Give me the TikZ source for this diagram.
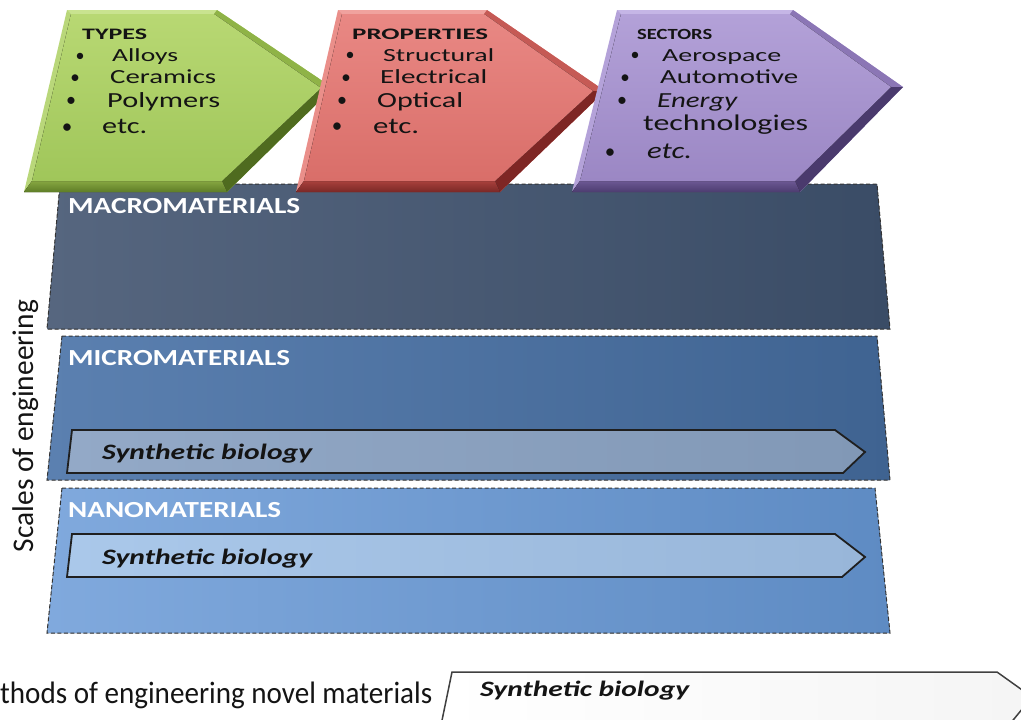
\documentclass[tikz,border=0pt]{standalone}
\usepackage{fontspec}
\setmainfont{Carlito}
\usepackage{graphicx}
\newcommand{\hfit}[2]{\resizebox{#1}{\height}{#2}}
\newcommand{\fsz}[1]{\fontsize{#1}{#1}\selectfont}
\definecolor{txt}{HTML}{141414}
\definecolor{macL}{HTML}{56667F}
\definecolor{macR}{HTML}{3A4C66}
\definecolor{micL}{HTML}{5B80B0}
\definecolor{micR}{HTML}{3F6391}
\definecolor{nanL}{HTML}{80A9DD}
\definecolor{nanR}{HTML}{5E8BC3}
\definecolor{sbmL}{HTML}{93A9C7}
\definecolor{sbmR}{HTML}{8198B6}
\definecolor{sbnL}{HTML}{AAC8EA}
\definecolor{sbnR}{HTML}{98B6D9}
% green
\definecolor{gTop}{HTML}{C9E38F}
\definecolor{gUR}{HTML}{8FB347}
\definecolor{gLR}{HTML}{4F6B1F}
\definecolor{gB1}{HTML}{86A641}
\definecolor{gB2}{HTML}{5E7D27}
\definecolor{gLeft}{HTML}{B9D77A}
\definecolor{gF1}{HTML}{B8D873}
\definecolor{gF2}{HTML}{A0C65A}
% red
\definecolor{rTop}{HTML}{F0A29E}
\definecolor{rUR}{HTML}{C55A55}
\definecolor{rLR}{HTML}{7E2624}
\definecolor{rB1}{HTML}{A8403C}
\definecolor{rB2}{HTML}{7A2826}
\definecolor{rLeft}{HTML}{EA8F8A}
\definecolor{rF1}{HTML}{E98884}
\definecolor{rF2}{HTML}{D96E69}
% purple
\definecolor{pTop}{HTML}{C5B6E6}
\definecolor{pUR}{HTML}{8B76B5}
\definecolor{pLR}{HTML}{4A3A6D}
\definecolor{pB1}{HTML}{6C5893}
\definecolor{pB2}{HTML}{4C3C70}
\definecolor{pLeft}{HTML}{B4A2D9}
\definecolor{pF1}{HTML}{B3A1D8}
\definecolor{pF2}{HTML}{9B87C4}
\begin{document}
\begin{tikzpicture}[x=1pt,y=-1pt,
  barline/.style={draw=black!80, line width=1pt, dash pattern=on 4pt off 2.5pt},
  sbline/.style={draw=black!88, line width=1.8pt, line join=miter},
  lbl/.style={inner sep=0pt, anchor=base west, text=txt},
  wlbl/.style={inner sep=0pt, anchor=base west, text=white},
  bul/.style={inner sep=0pt, anchor=base, text=txt}]
\useasboundingbox (0,0) rectangle (1021,720);
\clip (0,0) rectangle (1021,720);

% ---------- scale bars ----------
\fill[left color=macL, right color=macR] (60,184) -- (877,184) -- (890,329) -- (47,329) -- cycle;
\path[barline] (60,184) -- (877,184) -- (890,329) -- (47,329) -- cycle;
\fill[left color=micL, right color=micR] (62,336) -- (877,336) -- (890,480) -- (47,480) -- cycle;
\path[barline] (62,336) -- (877,336) -- (890,480) -- (47,480) -- cycle;
\fill[left color=nanL, right color=nanR] (62,488) -- (875,488) -- (890,633) -- (47,633) -- cycle;
\path[barline] (62,488) -- (875,488) -- (890,633) -- (47,633) -- cycle;

\node[wlbl] (macro) at (68,213) {\fsz{23}\bfseries\hfit{232pt}{MACROMATERIALS}};
\node[wlbl] (micro) at (68,365) {\fsz{23}\bfseries\hfit{222pt}{MICROMATERIALS}};
\node[wlbl] (nano) at (68,517) {\fsz{23}\bfseries\hfit{213pt}{NANOMATERIALS}};

% synthetic biology arrows
\fill[left color=sbmL, right color=sbmR] (72,430) -- (835,430) -- (865,452) -- (843,473) -- (67,473) -- cycle;
\path[sbline] (72,430) -- (835,430) -- (865,452) -- (843,473) -- (67,473) -- cycle;
\node[lbl] (sbmicro) at (102,459) {\fsz{22}\bfseries\itshape\hfit{210pt}{Synthetic biology}};
\fill[left color=sbnL, right color=sbnR] (72,534) -- (835,534) -- (865,557) -- (842,577) -- (67,577) -- cycle;
\path[sbline] (72,534) -- (835,534) -- (865,557) -- (842,577) -- (67,577) -- cycle;
\node[lbl] (sbnano) at (102,564) {\fsz{22}\bfseries\itshape\hfit{210pt}{Synthetic biology}};

% bottom arrow
\fill[left color=white, right color=black!4] (452,672) -- (997,672) -- (1032,697) -- (1005,730) -- (440,730) -- cycle;
\draw[black!75, line width=1.5pt] (452,672) -- (997,672) -- (1032,697) -- (1005,730) -- (440,730) -- cycle;
\node[lbl] (sbbottom) at (480,696) {\fsz{22}\bfseries\itshape\hfit{209pt}{Synthetic biology}};

% axis texts
\node[inner sep=0pt, anchor=base, rotate=90, text=txt] (scales) at (33,426) {\fsz{30}\hfit{252pt}{Scales of engineering}};
\node[lbl] (methods) at (0,703) {\fsz{31}\hfit{432pt}{thods of engineering novel materials}};

% ---------- green arrow ----------
\fill[gLeft] (67,10) -- (217,10) -- (333,88) -- (227,192) -- (24,192) -- cycle;
\fill[gTop] (67,10) -- (217,10) -- (214,14) -- (71,14) -- cycle;
\fill[gUR] (217,10) -- (333,88) -- (321,88) -- (214,14) -- cycle;
\fill[gLR] (333,88) -- (227,192) -- (222,181) -- (321,88) -- cycle;
\fill[top color=gB1, bottom color=gB2] (227,192) -- (24,192) -- (32,181) -- (222,181) -- cycle;
\fill[top color=gF1, bottom color=gF2] (71,14) -- (214,14) -- (321,88) -- (222,181) -- (32,181) -- cycle;

% ---------- red arrow ----------
\fill[rLeft] (338,10) -- (487,10) -- (605,91) -- (500,192) -- (296,192) -- cycle;
\fill[rTop] (338,10) -- (487,10) -- (484,14) -- (342,14) -- cycle;
\fill[rUR] (487,10) -- (605,91) -- (593,91) -- (484,14) -- cycle;
\fill[rLR] (605,91) -- (500,192) -- (495,181) -- (593,91) -- cycle;
\fill[top color=rB1, bottom color=rB2] (500,192) -- (296,192) -- (304,181) -- (495,181) -- cycle;
\fill[top color=rF1, bottom color=rF2] (342,14) -- (484,14) -- (593,91) -- (495,181) -- (304,181) -- cycle;

% ---------- purple arrow ----------
\fill[pLeft] (617,10) -- (793,10) -- (903,87) -- (800,192) -- (572,192) -- cycle;
\fill[pTop] (617,10) -- (793,10) -- (790,14) -- (621,14) -- cycle;
\fill[pUR] (793,10) -- (903,87) -- (891,87) -- (790,14) -- cycle;
\fill[pLR] (903,87) -- (800,192) -- (795,181) -- (891,87) -- cycle;
\fill[top color=pB1, bottom color=pB2] (800,192) -- (572,192) -- (580,181) -- (795,181) -- cycle;
\fill[top color=pF1, bottom color=pF2] (621,14) -- (790,14) -- (891,87) -- (795,181) -- (580,181) -- cycle;

% ---------- TYPES ----------
\node[lbl] (types) at (82,39) {\fsz{16}\bfseries\hfit{65pt}{TYPES}};
\node[bul] (tb1) at (80,61) {\fsz{18}•};
\node[lbl] (t1) at (112,61) {\fsz{18.5}\hfit{66pt}{Alloys}};
\node[bul] (tb2) at (75,83) {\fsz{19}•};
\node[lbl] (t2) at (110,83) {\fsz{20}\hfit{106pt}{Ceramics}};
\node[bul] (tb3) at (71,106) {\fsz{20}•};
\node[lbl] (t3) at (107,107) {\fsz{21.5}\hfit{113pt}{Polymers}};
\node[bul] (tb4) at (67,133) {\fsz{21}•};
\node[lbl] (t4) at (102,133) {\fsz{22.5}\hfit{45pt}{etc.}};

% ---------- PROPERTIES ----------
\node[lbl] (props) at (352,39) {\fsz{16}\bfseries\hfit{136pt}{PROPERTIES}};
\node[bul] (pb1) at (350,60) {\fsz{18}•};
\node[lbl] (p1) at (383,61) {\fsz{18.5}\hfit{111pt}{Structural}};
\node[bul] (pb2) at (346,83) {\fsz{19}•};
\node[lbl] (p2) at (380,83) {\fsz{20}\hfit{107pt}{Electrical}};
\node[bul] (pb3) at (342,106) {\fsz{20}•};
\node[lbl] (p3) at (377,107) {\fsz{21.5}\hfit{86pt}{Optical}};
\node[bul] (pb4) at (337,132) {\fsz{21}•};
\node[lbl] (p4) at (373,133) {\fsz{22.5}\hfit{46pt}{etc.}};

% ---------- SECTORS ----------
\node[lbl] (sect) at (637,40) {\fsz{15.5}\bfseries\hfit{75pt}{SECTORS}};
\node[bul] (sb1) at (635,60) {\fsz{18}•};
\node[lbl] (s1) at (662,61) {\fsz{18.5}\hfit{119pt}{Aerospace}};
\node[bul] (sb2) at (625,83) {\fsz{19}•};
\node[lbl] (s2) at (660,83) {\fsz{20}\hfit{138pt}{Automotive}};
\node[bul] (sb3) at (622,106) {\fsz{20}•};
\node[lbl] (s3) at (657,107) {\fsz{21.5}\itshape\hfit{80pt}{Energy}};
\node[lbl] (s4) at (643,130) {\fsz{22.5}\hfit{165pt}{technologies}};
\node[bul] (sb4) at (610,158) {\fsz{21}•};
\node[lbl] (s5) at (647,158) {\fsz{23}\itshape\hfit{45pt}{etc.}};
\end{tikzpicture}
\end{document}
